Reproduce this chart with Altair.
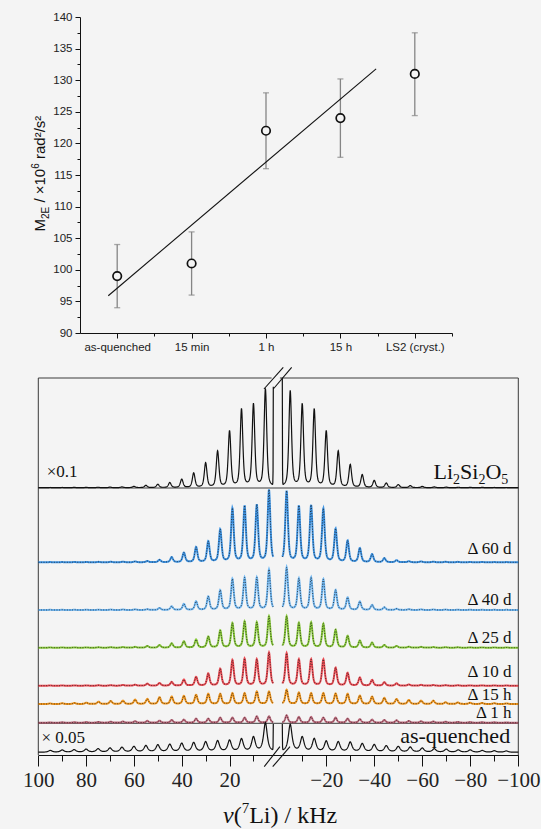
import json
import numpy as np
import pandas as pd
import altair as alt

BG = "#f4f4f4"
INK = "#111111"

# ---------------- second moment M2E versus annealing state ----------------
categories = ["as-quenched", "15 min", "1 h", "15 h", "LS2 (cryst.)"]
m2e = [99, 101, 122, 124, 131]
m2e_low = [94, 96, 116, 117.8, 124.4]
m2e_high = [104, 106, 128, 130.2, 137.5]
fit_pos = [0.88, 4.48]
fit_m2e = [95.9, 131.8]

# ---------------- 7Li MAS spectra: spinning sideband heights ----------------
# distance of the sidebands from the centre (kHz), on the + and - side
pos_ref = [5, 10, 15, 20, 25, 30, 35, 40, 45, 50, 55, 60, 65, 70, 75, 80, 85, 90, 95]
pos_ann = [3.5, 8.6, 13.7, 18.8, 23.9, 28.9, 34.0, 39.1, 44.2, 49.3,
           54.4, 59.5, 64.6, 69.7, 74.8, 79.9, 84.9, 90.0, 95.1]

lss_plus = [98, 82.7, 77.7, 56, 36, 24.4, 14.4, 8.3, 5, 3.3, 2.3, 1.3, 0.7, 0.5, 0.4, 0.3, 0.3, 0.2, 0.2]
lss_minus = [96, 82.7, 77.7, 56, 36, 22.7, 12.7, 7, 4.5, 3, 2, 1.2, 0.7, 0.5, 0.4, 0.3, 0.3, 0.2, 0.2]
lss_centre = [98, 107]

d60_plus = [71.7, 56.7, 55.7, 53.4, 32.4, 20.7, 15, 9.5, 5, 2.4, 1.2, 0.8, 0.6, 0.5, 0.4, 0.3, 0.3, 0.2, 0.2]
d60_minus = [70.6, 55.6, 56.3, 53, 33, 21.3, 14, 8, 4, 2, 1, 0.8, 0.6, 0.5, 0.4, 0.3, 0.3, 0.2, 0.2]

d40_plus = [40, 32, 32, 30.7, 19.5, 13.3, 8.5, 6, 3.6, 2, 0.8, 0.6, 0.5, 0.4, 0.3, 0.3, 0.2, 0.2, 0.2]
d40_minus = [42, 31, 32, 30.4, 19.7, 12.3, 8.3, 5, 2.7, 1.2, 0.8, 0.6, 0.5, 0.4, 0.3, 0.3, 0.2, 0.2, 0.2]

d25_plus = [31, 25, 26, 24.3, 17, 11, 8, 6.3, 4.3, 2.6, 1.7, 0.8, 0.6, 0.5, 0.4, 0.3, 0.3, 0.2, 0.2]
d25_minus = [31, 24.3, 25, 23.7, 17.7, 11.7, 7, 5, 2.7, 1.7, 1, 0.8, 0.6, 0.5, 0.4, 0.3, 0.3, 0.2, 0.2]

d10_plus = [32.7, 26, 26.7, 25.3, 16.7, 12, 8.7, 6, 3.7, 2.7, 2, 1, 0.7, 0.5, 0.4, 0.3, 0.3, 0.2, 0.2]
d10_minus = [32, 26, 26, 26, 17.7, 12.7, 8, 5.7, 3.4, 2.3, 1.2, 0.8, 0.6, 0.5, 0.4, 0.3, 0.3, 0.2, 0.2]

h15_plus = [12.3, 12.3, 10.7, 10.7, 10, 10, 9, 8, 7.3, 6.7, 5, 4.3, 3.3, 3, 2.3, 1.3, 1, 0.7, 0.5]
h15_minus = [14, 11.3, 10.7, 10.7, 10.3, 10, 8.3, 7.3, 6, 5, 4, 3.3, 3.3, 1.7, 1.5, 1.2, 1, 0.8, 0.6]

h1_plus = [6.3, 6.3, 5, 5, 5, 4, 4, 3, 2.7, 2, 1.8, 1.5, 1.2, 1, 0.8, 0.6, 0.5, 0.4, 0.3]
h1_minus = [7.3, 5.6, 5.6, 5, 5, 4, 3.5, 3, 2.7, 2.3, 1.7, 1.4, 1.2, 1, 0.8, 0.6, 0.5, 0.4, 0.3]

aq_plus = [29, 14.6, 12.8, 11.5, 11, 10, 9.3, 8.6, 7.6, 7.2, 6.4, 5.6, 4.8, 4.1, 3.4, 3, 2.5, 2.2, 1.8]
aq_minus = [27.3, 14.6, 13, 10.6, 10, 9.7, 8.3, 7.3, 6.3, 5.6, 5, 4, 3.3, 3, 2.3, 2.3, 1.7, 1.5, 1.3]
aq_centre = [26, 26]

trace_names = ["Li2Si2O5", "Δ 60 d", "Δ 40 d", "Δ 25 d", "Δ 10 d", "Δ 15 h", "Δ 1 h", "as-quenched"]
delta_names = trace_names[1:7]
delta_colors = ["#2a8ae2", "#62b0f2", "#7cc426", "#ea3a42", "#f08c08", "#b65a6e"]

# vertical stacking of the traces and label lifts (intensity units)
stack = [267.3, 192.7, 145.0, 107.3, 69.3, 51.0, 32.3, 2.7]
label_lift = [None, 8.3, 5.0, 5.0, 8.4, 4.0, 4.4, 9.6]

GAP = 1.7  # half-width of the cut-out centre (kHz)


def pseudo_voigt(d, fwhm, eta):
    g = fwhm / 2.0
    u = (d / g) ** 2
    return eta / (1.0 + u) + (1.0 - eta) * np.exp(-np.log(2.0) * u)


def spectrum(nu, pos, plus, minus, centre, fwhm, eta):
    y = np.zeros_like(nu)
    for p, a in zip(pos, plus):
        y += a * pseudo_voigt(nu - p, fwhm, eta)
    for p, a in zip(pos, minus):
        y += a * pseudo_voigt(nu + p, fwhm, eta)
    if centre is not None:
        h = np.where(nu > 0, centre[0], centre[1])
        y += h * np.exp(-(nu ** 2 - GAP ** 2) / (2 * 0.3 ** 2))
    return y


nu_plus = np.linspace(100, GAP, 983)
nu_minus = -nu_plus
specs = [
    (pos_ref, lss_plus, lss_minus, lss_centre, 1.3, 0.5),
    (pos_ann, d60_plus, d60_minus, None, 1.3, 0.5),
    (pos_ann, d40_plus, d40_minus, None, 1.3, 0.5),
    (pos_ann, d25_plus, d25_minus, None, 1.3, 0.5),
    (pos_ann, d10_plus, d10_minus, None, 1.3, 0.5),
    (pos_ann, h15_plus, h15_minus, None, 1.3, 0.5),
    (pos_ann, h1_plus, h1_minus, None, 1.3, 0.5),
    (pos_ref, aq_plus, aq_minus, aq_centre, 1.8, 0.8),
]
frames = []
for name, base, (pos, plus, minus, centre, fwhm, eta) in zip(trace_names, stack, specs):
    for seg, nu in (("plus", nu_plus), ("minus", nu_minus)):
        y = spectrum(nu, pos, plus, minus, centre, fwhm, eta) + base
        frames.append(pd.DataFrame({"nu": np.round(nu, 3), "y": np.round(y, 2),
                                    "trace": name, "seg": seg}))
spec_df = pd.concat(frames, ignore_index=True)

# ---------------- upper panel ----------------
m_df = pd.DataFrame({"pos": list(range(1, len(categories) + 1)), "cat": categories,
                     "m2e": m2e, "lo": m2e_low, "hi": m2e_high})
fit_df = pd.DataFrame({"pos": fit_pos, "m2e": fit_m2e})

xs_top = alt.Scale(domain=[0.5, 5.5], range=[80, 452], nice=False, zero=False)
ys_top = alt.Scale(domain=[90, 140], range=[333, 17], nice=False, zero=False)
H = 829

sans = "Liberation Sans"
serif = "Liberation Serif"

common_axis = dict(grid=False, title=None, domainColor=INK, tickColor=INK, labelColor="#222",
                   labelFlush=False, labelOverlap=False, domainWidth=1, tickWidth=1)

ax_top_y = alt.Axis(orient="left", offset=-80, values=list(range(90, 141, 5)), tickSize=5,
                    labelPadding=3, labelFont=sans, labelFontSize=11.5, format="d", **common_axis)
ax_top_y_minor = alt.Axis(orient="left", offset=-80, values=[92.5 + 5 * i for i in range(10)],
                          tickSize=3, labels=False, domain=False, grid=False, title=None,
                          tickColor=INK)
label_expr = "%s[datum.value - 1]" % json.dumps(categories)
ax_top_x = alt.Axis(orient="bottom", offset=333 - H, values=[1, 2, 3, 4, 5], tickSize=5,
                    labelPadding=3, labelFont=sans, labelFontSize=11.5, labelExpr=label_expr,
                    **common_axis)
ax_top_x_minor = alt.Axis(orient="bottom", offset=333 - H, values=[1.5, 2.5, 3.5, 4.5, 5.5],
                          tickSize=3, labels=False, domain=False, grid=False, title=None,
                          tickColor=INK)

err = alt.Chart(m_df).mark_rule(color="#858585", strokeWidth=1.3).encode(
    x=alt.X("pos:Q", scale=xs_top, axis=ax_top_x),
    y=alt.Y("lo:Q", scale=ys_top, axis=ax_top_y),
    y2="hi:Q",
)
cap_lo = alt.Chart(m_df).mark_tick(orient="horizontal", size=6, thickness=1.3, color="#858585").encode(
    x=alt.X("pos:Q", scale=xs_top, axis=None), y=alt.Y("lo:Q", scale=ys_top, axis=None))
cap_hi = alt.Chart(m_df).mark_tick(orient="horizontal", size=6, thickness=1.3, color="#858585").encode(
    x=alt.X("pos:Q", scale=xs_top, axis=None), y=alt.Y("hi:Q", scale=ys_top, axis=None))
fit = alt.Chart(fit_df).mark_line(color=INK, strokeWidth=1.1).encode(
    x=alt.X("pos:Q", scale=xs_top, axis=None), y=alt.Y("m2e:Q", scale=ys_top, axis=None))
pts = alt.Chart(m_df).mark_circle(fill=BG, stroke=INK, strokeWidth=1.7, size=72, opacity=1).encode(
    x=alt.X("pos:Q", scale=xs_top, axis=None), y=alt.Y("m2e:Q", scale=ys_top, axis=None))
minor_top = alt.Chart(m_df).mark_point(opacity=0).encode(
    x=alt.X("pos:Q", scale=xs_top, axis=ax_top_x_minor),
    y=alt.Y("m2e:Q", scale=ys_top, axis=ax_top_y_minor))


def piece(text, x, y, size, font, angle=0, style="normal", color=INK):
    return alt.Chart(pd.DataFrame({"t": [text]})).mark_text(
        align="left", baseline="alphabetic", font=font, fontSize=size, angle=angle,
        fontStyle=style, color=color,
    ).encode(text="t:N", x=alt.value(x), y=alt.value(y))


# y title  M_2E / ×10^6 rad²/s²  (rotated, built from pieces)
ytitle = [
    piece("M", 45, 231.5, 15, sans, 270),
    piece("2E", 48.5, 219.0, 10, sans, 270),
    piece("/ ×10", 45, 202.6, 15, sans, 270),
    piece("6", 38.5, 168.8, 10, sans, 270),
    piece("rad²/s²", 45, 159.0, 15, sans, 270),
]

top = alt.layer(err, cap_lo, cap_hi, fit, pts, minor_top, *ytitle).resolve_axis(
    x="independent", y="independent")

# ---------------- lower panel ----------------
xs_sp = alt.Scale(domain=[100, GAP, -GAP, -100], range=[38.3, 273.3, 282.3, 518.3],
                  nice=False, zero=False)
ys_sp = alt.Scale(domain=[0, 377], range=[755, 378], nice=False, zero=False)

ax_sp = alt.Axis(orient="bottom", offset=755 - H, values=[100, 80, 60, 40, 20, -20, -40, -60, -80, -100],
                 tickSize=11, labelPadding=3, labelFont=serif, labelFontSize=21, format="d",
                 **common_axis)
ax_sp_minor = alt.Axis(orient="bottom", offset=755 - H,
                       values=[90, 70, 50, 30, 10, -10, -30, -50, -70, -90],
                       tickSize=6, labels=False, domain=False, grid=False, title=None, tickColor=INK)

frame_df = pd.DataFrame({
    "x": [100, -100, 100, -0.8, 100, 100],
    "x2": [100, -100, 2.4, -100, -100, -100],
    "y": [0, 0, 377, 377, 267.0, 31.7],
    "y2": [377, 377, 377, 377, 267.0, 31.7],
})
frame = alt.Chart(frame_df).mark_rule(color="#3a3a3a", strokeWidth=1).encode(
    x=alt.X("x:Q", scale=xs_sp, axis=ax_sp), x2="x2:Q",
    y=alt.Y("y:Q", scale=ys_sp, axis=None), y2="y2:Q")

# axis-break marks: across the top of the Li2Si2O5 centre band and across the frequency axis
brk_df = pd.DataFrame({
    "x": [5.6, GAP, 5.5, 1.95],
    "x2": [-2.1, -5.6, -0.8, -4.9],
    "y": [366, 366, -11.7, -11.7],
    "y2": [387.7, 387.7, 8.3, 8.3],
})
brk = alt.Chart(brk_df).mark_rule(color=INK, strokeWidth=1.1).encode(
    x=alt.X("x:Q", scale=xs_sp, axis=None), x2="x2:Q",
    y=alt.Y("y:Q", scale=ys_sp, axis=None), y2="y2:Q")

colored = alt.Chart(spec_df).transform_filter(
    alt.FieldOneOfPredicate(field="trace", oneOf=delta_names)
).mark_line(strokeWidth=2.0, opacity=0.9).encode(
    x=alt.X("nu:Q", scale=xs_sp, axis=None),
    y=alt.Y("y:Q", scale=ys_sp, axis=None),
    color=alt.Color("trace:N", scale=alt.Scale(domain=delta_names, range=delta_colors), legend=None),
    detail="seg:N",
)
dotted = alt.Chart(spec_df).transform_filter(
    alt.FieldOneOfPredicate(field="trace", oneOf=delta_names)
).mark_line(strokeWidth=0.8, color="#1a1a1a", strokeDash=[1, 1.6]).encode(
    x=alt.X("nu:Q", scale=xs_sp, axis=None),
    y=alt.Y("y:Q", scale=ys_sp, axis=None),
    detail=["trace:N", "seg:N"],
)
black = alt.Chart(spec_df).transform_filter(
    alt.FieldOneOfPredicate(field="trace", oneOf=["Li2Si2O5", "as-quenched"])
).mark_line(strokeWidth=1.2, color=INK).encode(
    x=alt.X("nu:Q", scale=xs_sp, axis=None),
    y=alt.Y("y:Q", scale=ys_sp, axis=None),
    detail=["trace:N", "seg:N"],
)
minor_sp = alt.Chart(pd.DataFrame({"nu": [0.0], "y": [0.0]})).mark_point(opacity=0).encode(
    x=alt.X("nu:Q", scale=xs_sp, axis=ax_sp_minor), y=alt.Y("y:Q", scale=ys_sp, axis=None))

lab_df = pd.DataFrame({
    "t": delta_names,
    "nu": [-97.2] * len(delta_names),
    "y": [stack[i] + label_lift[i] for i in range(1, 7)],
})
labels = alt.Chart(lab_df).mark_text(align="right", baseline="alphabetic", font=serif,
                                     fontSize=17, color=INK).encode(
    x=alt.X("nu:Q", scale=xs_sp, axis=None), y=alt.Y("y:Q", scale=ys_sp, axis=None), text="t:N")
aq_label = alt.Chart(pd.DataFrame({"t": ["as-quenched"], "nu": [-96.6], "y": [stack[7] + label_lift[7]]})
                     ).mark_text(align="right", baseline="alphabetic", font=serif, fontSize=22,
                                 color=INK).encode(
    x=alt.X("nu:Q", scale=xs_sp, axis=None), y=alt.Y("y:Q", scale=ys_sp, axis=None), text="t:N")
factor_df = pd.DataFrame({"t": ["×0.1", "× 0.05"], "nu": [96.5, 98.7],
                          "y": [stack[0] + 10.4, stack[7] + 9.6]})
factors = alt.Chart(factor_df).mark_text(align="left", baseline="alphabetic", font=serif,
                                         fontSize=17, color=INK).encode(
    x=alt.X("nu:Q", scale=xs_sp, axis=None), y=alt.Y("y:Q", scale=ys_sp, axis=None), text="t:N")

# Li2Si2O5 with subscripts
lss_label = [
    piece("Li", 433.5, 479.3, 22, serif),
    piece("2", 453.1, 484.0, 14, serif),
    piece("Si", 460.1, 479.3, 22, serif),
    piece("2", 478.4, 484.0, 14, serif),
    piece("O", 485.4, 479.3, 22, serif),
    piece("5", 501.3, 484.0, 14, serif),
]
# x title  ν(7Li) / kHz
xtitle = [
    piece("ν", 223, 823, 24, serif, style="italic"),
    piece("(", 233.7, 823, 24, serif),
    piece("7", 241.7, 813, 15, serif),
    piece("Li) / kHz", 249.2, 823, 24, serif),
]

bottom = alt.layer(frame, colored, dotted, black, brk, minor_sp, labels, aq_label, factors,
                   *lss_label, *xtitle).resolve_axis(x="independent")

chart = alt.layer(top, bottom).resolve_scale(x="independent", y="independent").properties(
    width=541, height=829, autosize=alt.AutoSizeParams(type="none"), padding=0, background=BG
).configure_view(strokeWidth=0)

chart.save("out.html", embed_options={"renderer": "svg", "actions": False})
